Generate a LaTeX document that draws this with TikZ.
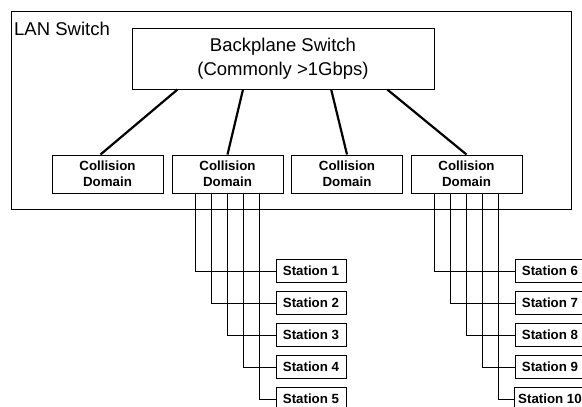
\documentclass[tikz,border=0pt]{standalone}
\usepackage{fontspec}
\setmainfont{Liberation Sans}
\usetikzlibrary{calc}

\tikzset{
	frame/.style={draw, line width=1pt},
	box/.style={draw, line width=1pt, align=center, inner sep=0pt},
	bigtext/.style={font=\fontsize{18.5}{24}\selectfont},
	smalltext/.style={font=\bfseries\fontsize{13.3}{16}\selectfont},
	cdbox/.style={box, smalltext, minimum width=111, minimum height=38},
	stationbox/.style={box, smalltext, minimum width=70, minimum height=23, inner xsep=4},
	trunk/.style={line width=2.2pt},
	tap/.style={line width=1pt}
}

\begin{document}
\begin{tikzpicture}[x=1pt, y=-1pt]
		\useasboundingbox (0,0) rectangle (582,407);

		\draw[frame] (11,11) rectangle (571,209);
		\node[bigtext, anchor=base west, inner sep=0pt] (lan) at (14,35) {LAN Switch};

		\node[box, bigtext, minimum width=302, minimum height=61] (bp) at (283,58.5) {Backplane Switch\\(Commonly >1Gbps)};

		\node[cdbox] (cd1) at (107.5,174) {Collision\\Domain};
		\node[cdbox] (cd2) at (227.5,174) {Collision\\Domain};
		\node[cdbox] (cd3) at (347,174) {Collision\\Domain};
		\node[cdbox] (cd4) at (466.5,174) {Collision\\Domain};

		\draw[trunk] ($(bp.south west)!0.152!(bp.south east)$) -- ([xshift=-7]cd1.north);
		\draw[trunk] ($(bp.south west)!0.368!(bp.south east)$) -- (cd2.north);
		\draw[trunk] ($(bp.south west)!0.659!(bp.south east)$) -- (cd3.north);
		\draw[trunk] ($(bp.south west)!0.844!(bp.south east)$) -- (cd4.north);

		\node[stationbox] (st1) at (311,271) {Station 1};
		\node[stationbox] (st2) at (311,303) {Station 2};
		\node[stationbox] (st3) at (311,335) {Station 3};
		\node[stationbox] (st4) at (311,367) {Station 4};
		\node[stationbox] (st5) at (311,399) {Station 5};

		\node[stationbox] (st6) at (550,271) {Station 6};
		\node[stationbox] (st7) at (550,303) {Station 7};
		\node[stationbox] (st8) at (550,335) {Station 8};
		\node[stationbox] (st9) at (550,367) {Station 9};
		\node[stationbox] (st10) at (550,399) {Station 10};

		\draw[tap] ([xshift=-32]cd2.south) |- (st1.west);
		\draw[tap] ([xshift=-16]cd2.south) |- (st2.west);
		\draw[tap] (cd2.south) |- (st3.west);
		\draw[tap] ([xshift=16]cd2.south) |- (st4.west);
		\draw[tap] ([xshift=32]cd2.south) |- (st5.west);

		\draw[tap] ([xshift=-32]cd4.south) |- (st6.west);
		\draw[tap] ([xshift=-16]cd4.south) |- (st7.west);
		\draw[tap] (cd4.south) |- (st8.west);
		\draw[tap] ([xshift=16]cd4.south) |- (st9.west);
		\draw[tap] ([xshift=32]cd4.south) |- (st10.west);
	\end{tikzpicture}
\end{document}
